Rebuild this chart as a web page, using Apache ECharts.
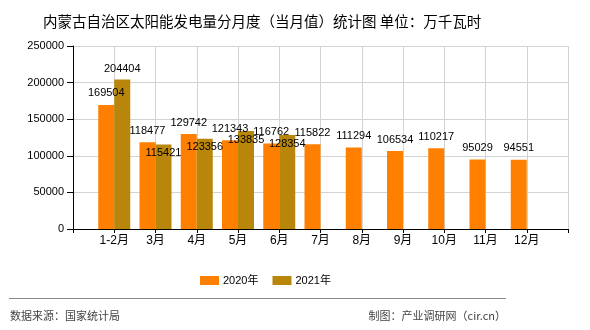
<!DOCTYPE html>
<html>
<head>
<meta charset="utf-8">
<script src="https://cdn.jsdelivr.net/npm/echarts@6/dist/echarts.min.js"></script>
<style>html,body{margin:0;padding:0;background:#fff}#c{width:590px;height:330px}</style>
</head>
<body>
<div id="c"></div>
<script>
var months = ['1-2月','3月','4月','5月','6月','7月','8月','9月','10月','11月','12月'];
var values2020 = [169504,118477,129742,121343,116762,115822,111294,106534,110217,95029,94551];
var values2021 = [204404,115421,123356,133835,128354];
var yTicks = [0,50000,100000,150000,200000,250000];
var seriesNames = ['2020年','2021年'];

var FONT = "'Liberation Sans','Noto Sans CJK SC',sans-serif";
var cats = [''].concat(months).concat(['']);
var d2020 = [null].concat(values2020);
var d2021 = [null].concat(values2021.map(function(v, i){
  return {value: v, label: {position: i === 0 ? 'top' : 'insideTop', distance: i === 0 ? 5 : 3}};
}));

var chart = echarts.init(document.getElementById('c'), null, {renderer: 'canvas'});
chart.setOption({
  animation: false,
  backgroundColor: '#fff',
  title: {
    text: '内蒙古自治区太阳能发电量分月度（当月值）统计图 单位：万千瓦时',
    left: 38, top: 9,
    textStyle: {fontSize: 14.5, fontWeight: 'normal', color: '#000', fontFamily: "'Noto Sans CJK SC',sans-serif"}
  },
  legend: {
    left: 195, top: 270,
    itemWidth: 19, itemHeight: 9, itemGap: 14,
    icon: 'rect',
    textStyle: {fontSize: 11, color: '#000', fontFamily: FONT, padding: [0,0,0,-1]},
    data: seriesNames
  },
  grid: {left: 73, right: 22, top: 46, bottom: 101},
  xAxis: {
    type: 'category',
    data: cats,
    boundaryGap: false,
    axisLine: {lineStyle: {color: '#000'}},
    axisTick: {length: 4, lineStyle: {color: '#000'}, interval: 0},
    axisLabel: {interval: 0, fontSize: 12, color: '#000', fontFamily: FONT, margin: 6},
    splitLine: {show: true, interval: 0, lineStyle: {color: '#d3d3d3'}}
  },
  yAxis: {
    type: 'value',
    min: yTicks[0], max: yTicks[yTicks.length-1], interval: 50000,
    axisLine: {show: true, lineStyle: {color: '#000'}},
    axisTick: {show: true, length: 6, lineStyle: {color: '#000'}},
    axisLabel: {fontSize: 11, color: '#000', fontFamily: FONT, margin: 9, formatter: function(v){ return String(v); }},
    splitLine: {lineStyle: {color: '#d3d3d3'}}
  },
  series: [
    {
      name: seriesNames[0], type: 'bar', data: d2020,
      barWidth: 16, barGap: '0%',
      itemStyle: {color: '#FF8000'},
      label: {show: true, position: 'top', distance: 6, fontSize: 11, color: '#000', fontFamily: FONT}
    },
    {
      name: seriesNames[1], type: 'bar', data: d2021,
      barWidth: 16, barGap: '0%',
      itemStyle: {color: '#B8860B'},
      label: {show: true, position: 'insideTop', fontSize: 11, color: '#000', fontFamily: FONT}
    }
  ],
  graphic: [
    {type: 'line', shape: {x1: 9, y1: 298.5, x2: 506, y2: 298.5}, style: {stroke: '#888', lineWidth: 1}},
    {type: 'text', left: 10, top: 310, style: {text: '数据来源：国家统计局', fontSize: 11, fill: '#444', fontFamily: "'Noto Sans CJK SC',sans-serif"}},
    {type: 'text', right: 84, top: 310, style: {text: '制图：产业调研网（cir.cn）', fontSize: 11, fill: '#444', fontFamily: "'Noto Sans CJK SC',sans-serif"}}
  ]
});
</script>
</body>
</html>
